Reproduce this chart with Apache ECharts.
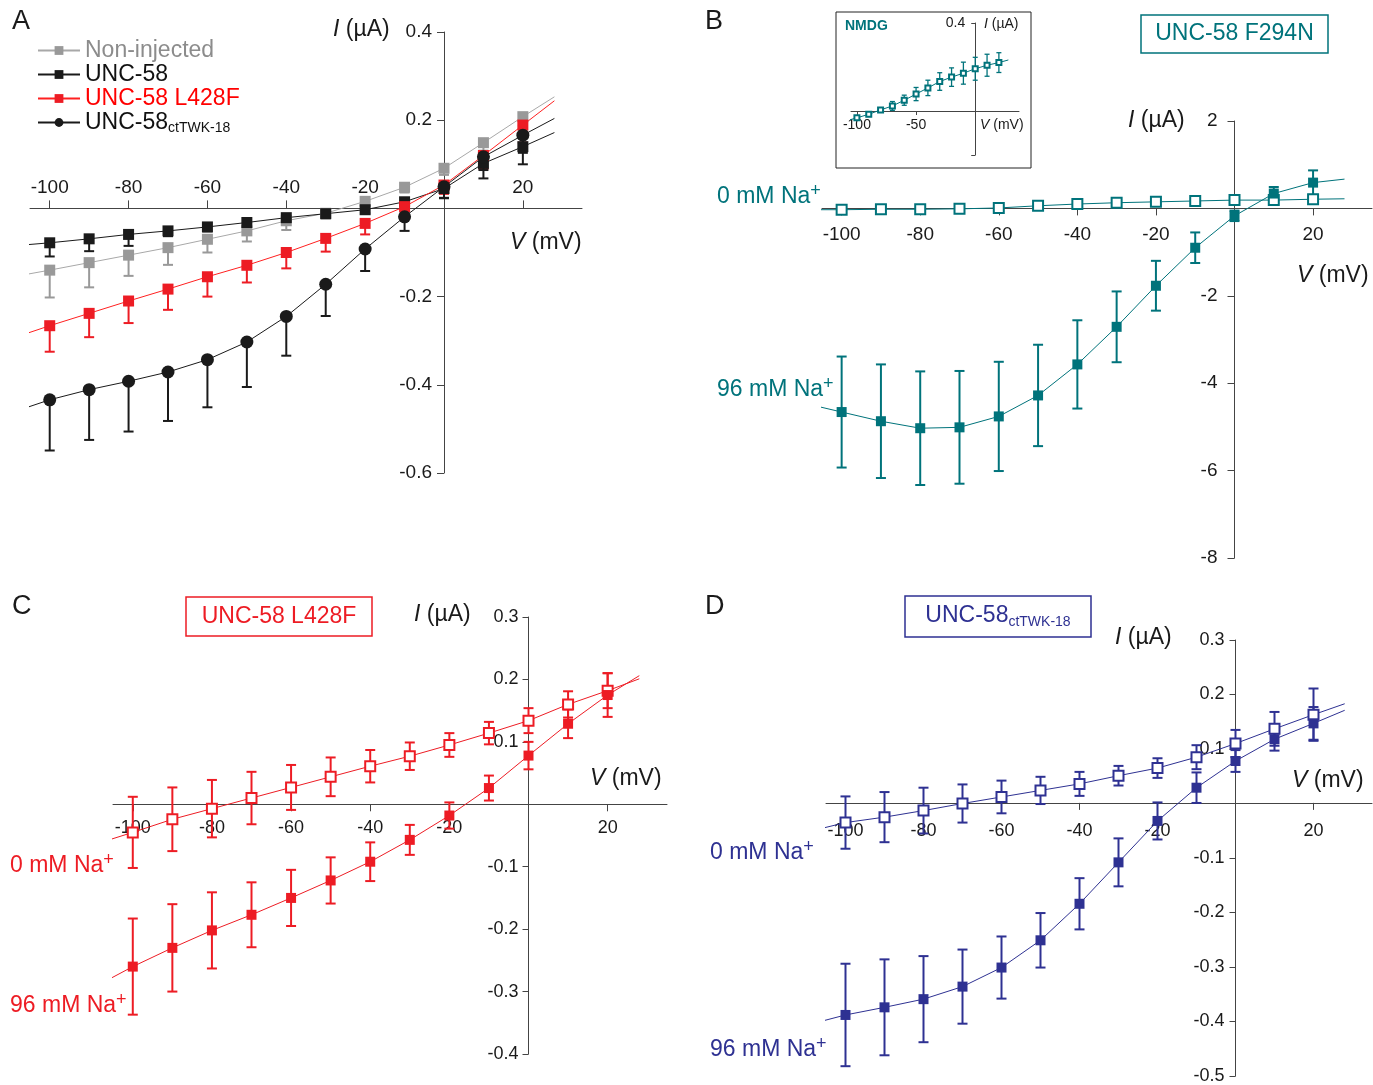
<!DOCTYPE html>
<html>
<head>
<meta charset="utf-8">
<script src="https://cdn.jsdelivr.net/npm/echarts@6/dist/echarts.min.js"></script>
<style>
body { margin: 0; background: #fff; }
#main { width: 1373px; height: 1085px; }
</style>
</head>
<body>
<div id="main"></div>
<script>
// voltages (mV) and axis marks
var volts = [-100, -90, -80, -70, -60, -50, -40, -30, -20, -10, 0, 10, 20];
var fitX = [-108, 28];           // where the fitted curves start / end
var xLabels = [-100, -80, -60, -40, -20, 20];
var xTicks = [-100, -80, -60, -40, -20, 0, 20];

// A: I-V of the four constructs (uA), one-sided SEM
var aNonInj = [-0.140, -0.123, -0.106, -0.089, -0.070, -0.051, -0.028, -0.011, 0.016, 0.048, 0.091, 0.149, 0.208];
var aNonInjErr = [0.062, 0.056, 0.047, 0.039, 0.030, 0.024, 0.021, 0.012, 0.010, 0.012, 0.015, 0.018, 0.020];
var aNonInjFit = [-0.153, 0.253];
var aUnc58 = [-0.078, -0.069, -0.059, -0.051, -0.042, -0.032, -0.021, -0.012, -0.003, 0.015, 0.045, 0.102, 0.140];
var aUnc58Err = [0.031, 0.028, 0.026, 0.012, 0.010, 0.008, 0.008, 0.006, 0.008, 0.010, 0.022, 0.034, 0.040];
var aUnc58Fit = [-0.084, 0.172];
var aL428F = [-0.266, -0.238, -0.210, -0.183, -0.155, -0.129, -0.100, -0.068, -0.034, 0.004, 0.053, 0.120, 0.189];
var aL428FErr = [0.059, 0.054, 0.050, 0.047, 0.045, 0.039, 0.036, 0.030, 0.025, 0.020, 0.020, 0.030, 0.040];
var aL428FFit = [-0.290, 0.244];
var aTwk = [-0.434, -0.411, -0.392, -0.371, -0.343, -0.303, -0.245, -0.172, -0.092, -0.019, 0.049, 0.117, 0.166];
var aTwkErr = [0.115, 0.114, 0.114, 0.111, 0.108, 0.102, 0.089, 0.072, 0.050, 0.032, 0.025, 0.030, 0.040];
var aTwkFit = [-0.458, 0.204];

// B: UNC-58 F294N
var b0Na = [-0.03, -0.02, -0.02, -0.01, 0.01, 0.06, 0.10, 0.13, 0.15, 0.17, 0.19, 0.19, 0.21];
var b0NaErr = [0.04, 0.04, 0.04, 0.04, 0.04, 0.04, 0.04, 0.04, 0.04, 0.05, 0.05, 0.06, 0.06];
var b0NaFit = [-0.03, 0.22];
var b96Na = [-4.66, -4.87, -5.03, -5.01, -4.76, -4.28, -3.57, -2.71, -1.77, -0.90, -0.17, 0.34, 0.59];
var b96NaErr = [1.27, 1.30, 1.30, 1.29, 1.25, 1.16, 1.01, 0.81, 0.57, 0.35, 0.12, 0.15, 0.28];
var b96NaFit = [-4.49, 0.67];
// B inset: NMDG
var bNmdg = [-0.031, -0.015, 0.005, 0.023, 0.049, 0.077, 0.105, 0.134, 0.154, 0.172, 0.192, 0.208, 0.220];
var bNmdgErr = [0.010, 0.010, 0.010, 0.020, 0.023, 0.030, 0.035, 0.040, 0.042, 0.050, 0.052, 0.050, 0.045];
var bNmdgFit = [-0.043, 0.232];

// C: UNC-58 L428F
var c0Na = [-0.045, -0.024, -0.007, 0.010, 0.027, 0.044, 0.061, 0.077, 0.095, 0.114, 0.134, 0.160, 0.182];
var c0NaErr = [0.057, 0.051, 0.046, 0.042, 0.036, 0.031, 0.026, 0.022, 0.019, 0.018, 0.020, 0.021, 0.028];
var c0NaFit = [-0.061, 0.201];
var c96Na = [-0.260, -0.230, -0.202, -0.177, -0.150, -0.122, -0.092, -0.057, -0.018, 0.026, 0.078, 0.129, 0.175];
var c96NaErr = [0.077, 0.070, 0.061, 0.052, 0.045, 0.037, 0.031, 0.024, 0.021, 0.020, 0.022, 0.023, 0.035];
var c96NaFit = [-0.287, 0.206];

// D: UNC-58 ctTWK-18
var d0Na = [-0.035, -0.025, -0.013, 0.000, 0.012, 0.024, 0.036, 0.051, 0.065, 0.085, 0.110, 0.137, 0.163];
var d0NaErr = [0.048, 0.046, 0.042, 0.035, 0.030, 0.025, 0.022, 0.018, 0.018, 0.022, 0.025, 0.031, 0.048];
var d0NaFit = [-0.049, 0.183];
var d96Na = [-0.388, -0.374, -0.359, -0.336, -0.301, -0.251, -0.184, -0.108, -0.032, 0.029, 0.078, 0.118, 0.147];
var d96NaErr = [0.094, 0.088, 0.079, 0.068, 0.057, 0.050, 0.047, 0.044, 0.034, 0.028, 0.020, 0.021, 0.030];
var d96NaFit = [-0.403, 0.171];

var FONT = '"Liberation Sans", Arial, sans-serif';
var TEAL = '#00737b', RED = '#ed1c24', BLUE = '#2e3192', GRAY = '#999999', BLACK = '#1a1a1a';

// panel grids (px) and their axis ranges
var grids = [
    {left: 30, top: 32, width: 552, height: 441},     // A
    {left: 822, top: 121, width: 550, height: 437},   // B
    {left: 851, top: 23, width: 168, height: 132},    // B inset
    {left: 113, top: 617, width: 554, height: 437},   // C
    {left: 826, top: 640, width: 546, height: 437}    // D
];
var xRange = [[-105, 35], [-105, 35], [-105, 37], [-105, 35], [-105, 35]];
var yRange = [[-0.6, 0.4], [-8, 2], [-0.2, 0.4], [-0.4, 0.3], [-0.5, 0.3]];

function pts(vals, fit) {
    var d = [{value: [fitX[0], fit[0]], symbol: 'none'}];
    for (var i = 0; i < volts.length; i++) d.push([volts[i], vals[i]]);
    d.push({value: [fitX[1], fit[1]], symbol: 'none'});
    return d;
}

function bars(vals, errs, oneSided) {
    return volts.map(function (v, i) {
        return oneSided ? [v, vals[i] - errs[i], vals[i]] : [v, vals[i] - errs[i], vals[i] + errs[i]];
    });
}

function lineSeries(gi, name, vals, fit, color, sym, size, open, lineColor) {
    return {
        type: 'line', name: name, xAxisIndex: gi, yAxisIndex: gi,
        data: pts(vals, fit), clip: false, z: 3,
        symbol: sym, symbolSize: size, showAllSymbol: true,
        lineStyle: {color: lineColor || color, width: 1},
        itemStyle: open ? {color: '#fff', borderColor: color, borderWidth: 2} : {color: color},
        emphasis: {disabled: true}
    };
}

function errSeries(gi, data, color, cap, lw, oneSided) {
    return {
        type: 'custom', xAxisIndex: gi, yAxisIndex: gi, z: 2, silent: true,
        data: data, encode: {x: 0, y: [1, 2]},
        renderItem: function (params, api) {
            var lo = api.coord([api.value(0), api.value(1)]);
            var hi = api.coord([api.value(0), api.value(2)]);
            var st = {stroke: color, lineWidth: lw};
            var ch = [
                {type: 'line', shape: {x1: lo[0], y1: lo[1], x2: hi[0], y2: hi[1]}, style: st},
                {type: 'line', shape: {x1: lo[0] - cap, y1: lo[1], x2: lo[0] + cap, y2: lo[1]}, style: st}
            ];
            if (!oneSided) ch.push({type: 'line', shape: {x1: hi[0] - cap, y1: hi[1], x2: hi[0] + cap, y2: hi[1]}, style: st});
            return {type: 'group', children: ch};
        }
    };
}

// x axis sits on I = 0, y axis on V = 0 (moved there with offset)
function xAx(gi, pos, labels, ticks, fs, tlen, margin) {
    var g = grids[gi], yr = yRange[gi];
    var off = pos === 'top' ? -g.height * yr[1] / (yr[1] - yr[0]) : -g.height * (-yr[0]) / (yr[1] - yr[0]);
    return {
        type: 'value', gridIndex: gi, min: xRange[gi][0], max: xRange[gi][1], position: pos, offset: off,
        axisLine: {onZero: false, lineStyle: {color: '#444', width: 1}},
        axisTick: {length: tlen, customValues: ticks, lineStyle: {color: '#444'}},
        axisLabel: {customValues: labels, fontSize: fs, color: '#1a1a1a', fontFamily: FONT, margin: margin},
        splitLine: {show: false}
    };
}

function yAx(gi, labels, ticks, fs, tlen, margin) {
    var g = grids[gi], xr = xRange[gi];
    return {
        type: 'value', gridIndex: gi, min: yRange[gi][0], max: yRange[gi][1], position: 'left',
        offset: -g.width * (-xr[0]) / (xr[1] - xr[0]),
        axisLine: {show: true, onZero: false, lineStyle: {color: '#444', width: 1}},
        axisTick: {show: true, length: tlen, customValues: ticks, lineStyle: {color: '#444'}},
        axisLabel: {customValues: labels, fontSize: fs, color: '#1a1a1a', fontFamily: FONT, margin: margin},
        splitLine: {show: false}
    };
}

var rich = {
    i: {fontStyle: 'italic', fontSize: 23, fontFamily: FONT},
    sup: {fontSize: 18, fontFamily: FONT, verticalAlign: 'top', padding: [0, 0, 12, 0]},
    sub: {fontSize: 14, fontFamily: FONT, padding: [12, 0, 0, 0]},
    si: {fontStyle: 'italic', fontSize: 14, fontFamily: FONT},
    s14: {fontSize: 14, fontFamily: FONT}
};

function txt(x, y, text, size, color, align, bold) {
    return {
        type: 'text', x: x, y: y, silent: true,
        style: {
            text: text, fill: color || '#1a1a1a', fontSize: size, fontFamily: FONT,
            fontWeight: bold ? 'bold' : 'normal',
            textAlign: align || 'left', textVerticalAlign: 'middle', rich: rich
        }
    };
}

function box(x, y, w, h, color, lw) {
    return {type: 'rect', silent: true, shape: {x: x, y: y, width: w, height: h},
        style: {fill: 'none', stroke: color, lineWidth: lw}};
}

var graphics = [
    // A
    txt(12, 22, 'A', 27),
    txt(333, 30, '{i|I} (µA)', 23),
    txt(510, 243, '{i|V} (mV)', 23),
    // B
    txt(705, 22, 'B', 27),
    box(1141, 15, 187, 38, TEAL, 1.5),
    txt(1234.5, 34, 'UNC-58 F294N', 23, TEAL, 'center'),
    txt(1128, 121, '{i|I} (µA)', 23),
    txt(1297, 276, '{i|V} (mV)', 23),
    txt(717, 197, '0 mM Na{sup|+}', 23, TEAL),
    txt(717, 390, '96 mM Na{sup|+}', 23, TEAL),
    box(836, 12, 195, 156, '#222', 1),
    txt(845, 26, 'NMDG', 14, TEAL, 'left', true),
    txt(984, 24, '{si|I}{s14| (µA)}', 14),
    txt(980, 125, '{si|V}{s14| (mV)}', 14),
    // C
    txt(12, 607, 'C', 27),
    box(186, 597, 186, 39, RED, 1.5),
    txt(279, 617, 'UNC-58 L428F', 23, RED, 'center'),
    txt(414, 615, '{i|I} (µA)', 23),
    txt(590, 779, '{i|V} (mV)', 23),
    txt(10, 866, '0 mM Na{sup|+}', 23, RED),
    txt(10, 1006, '96 mM Na{sup|+}', 23, RED),
    // D
    txt(705, 607, 'D', 27),
    box(905, 596, 186, 41, BLUE, 1.5),
    txt(998, 616, 'UNC-58{sub|ctTWK-18}', 23, BLUE, 'center'),
    txt(1115, 638, '{i|I} (µA)', 23),
    txt(1292, 781, '{i|V} (mV)', 23),
    txt(710, 853, '0 mM Na{sup|+}', 23, BLUE),
    txt(710, 1050, '96 mM Na{sup|+}', 23, BLUE)
];

var myChart = echarts.init(document.getElementById('main'));
var option = {
    backgroundColor: '#fff',
    animation: false,
    textStyle: {fontFamily: FONT},
    grid: grids,
    legend: {
        orient: 'vertical', left: 32, top: 34, itemGap: 1,
        itemWidth: 42, itemHeight: 11,
        textStyle: {fontSize: 23, fontFamily: FONT, rich: {s: {fontSize: 14, fontFamily: FONT, padding: [12, 0, 0, 0]}}},
        formatter: function (name) {
            return name === 'UNC-58ctTWK-18' ? 'UNC-58{s|ctTWK-18}' : name;
        },
        data: [
            {name: 'Non-injected', textStyle: {color: '#8c8c8c'}},
            {name: 'UNC-58', textStyle: {color: '#111'}},
            {name: 'UNC-58 L428F', textStyle: {color: '#ff0000'}},
            {name: 'UNC-58ctTWK-18', textStyle: {color: '#111'}}
        ]
    },
    xAxis: [
        xAx(0, 'top', xLabels, xTicks, 19, 8, 11),
        xAx(1, 'bottom', xLabels, xTicks, 19, 7, 17),
        xAx(2, 'bottom', [-100, -50], [-100, -50], 14, 4, 7),
        xAx(3, 'bottom', xLabels, xTicks, 18, 7, 15),
        xAx(4, 'bottom', xLabels, xTicks, 18, 7, 19)
    ],
    yAxis: [
        yAx(0, [-0.6, -0.4, -0.2, 0.2, 0.4], [-0.6, -0.4, -0.2, 0, 0.2, 0.4], 19, 7, 12),
        yAx(1, [-8, -6, -4, -2, 2], [-8, -6, -4, -2, 0, 2], 19, 7, 17),
        yAx(2, [0.4], [-0.2, 0.4], 14, 4, 10),
        yAx(3, [-0.4, -0.3, -0.2, -0.1, 0.1, 0.2, 0.3], [-0.4, -0.3, -0.2, -0.1, 0, 0.1, 0.2, 0.3], 18, 6, 10),
        yAx(4, [-0.5, -0.4, -0.3, -0.2, -0.1, 0.1, 0.2, 0.3], [-0.5, -0.4, -0.3, -0.2, -0.1, 0, 0.1, 0.2, 0.3], 18, 6, 11)
    ],
    series: [
        // A
        errSeries(0, bars(aNonInj, aNonInjErr, true), GRAY, 5, 2, true),
        errSeries(0, bars(aUnc58, aUnc58Err, true), BLACK, 5, 2, true),
        errSeries(0, bars(aL428F, aL428FErr, true), RED, 5, 2, true),
        errSeries(0, bars(aTwk, aTwkErr, true), BLACK, 5, 2, true),
        lineSeries(0, 'Non-injected', aNonInj, aNonInjFit, GRAY, 'rect', 11, false, '#a8a8a8'),
        lineSeries(0, 'UNC-58', aUnc58, aUnc58Fit, BLACK, 'rect', 11, false),
        lineSeries(0, 'UNC-58 L428F', aL428F, aL428FFit, RED, 'rect', 11, false, '#ff2020'),
        lineSeries(0, 'UNC-58ctTWK-18', aTwk, aTwkFit, BLACK, 'circle', 13, false),
        // B
        errSeries(1, bars(b0Na, b0NaErr), TEAL, 4, 2),
        errSeries(1, bars(b96Na, b96NaErr), TEAL, 5, 2),
        lineSeries(1, 'b0', b0Na, b0NaFit, TEAL, 'rect', 10, true),
        lineSeries(1, 'b96', b96Na, b96NaFit, TEAL, 'rect', 10, false),
        // B inset
        errSeries(2, bars(bNmdg, bNmdgErr), TEAL, 2.5, 1.3),
        lineSeries(2, 'nmdg', bNmdg, bNmdgFit, TEAL, 'rect', 5, true),
        // C
        errSeries(3, bars(c0Na, c0NaErr), RED, 5, 2),
        errSeries(3, bars(c96Na, c96NaErr), RED, 5, 2),
        lineSeries(3, 'c0', c0Na, c0NaFit, RED, 'rect', 10, true),
        lineSeries(3, 'c96', c96Na, c96NaFit, RED, 'rect', 10, false),
        // D
        errSeries(4, bars(d0Na, d0NaErr), BLUE, 5, 2),
        errSeries(4, bars(d96Na, d96NaErr), BLUE, 5, 2),
        lineSeries(4, 'd0', d0Na, d0NaFit, BLUE, 'rect', 10, true),
        lineSeries(4, 'd96', d96Na, d96NaFit, BLUE, 'rect', 10, false)
    ],
    graphic: graphics
};
myChart.setOption(option);
</script>
</body>
</html>
